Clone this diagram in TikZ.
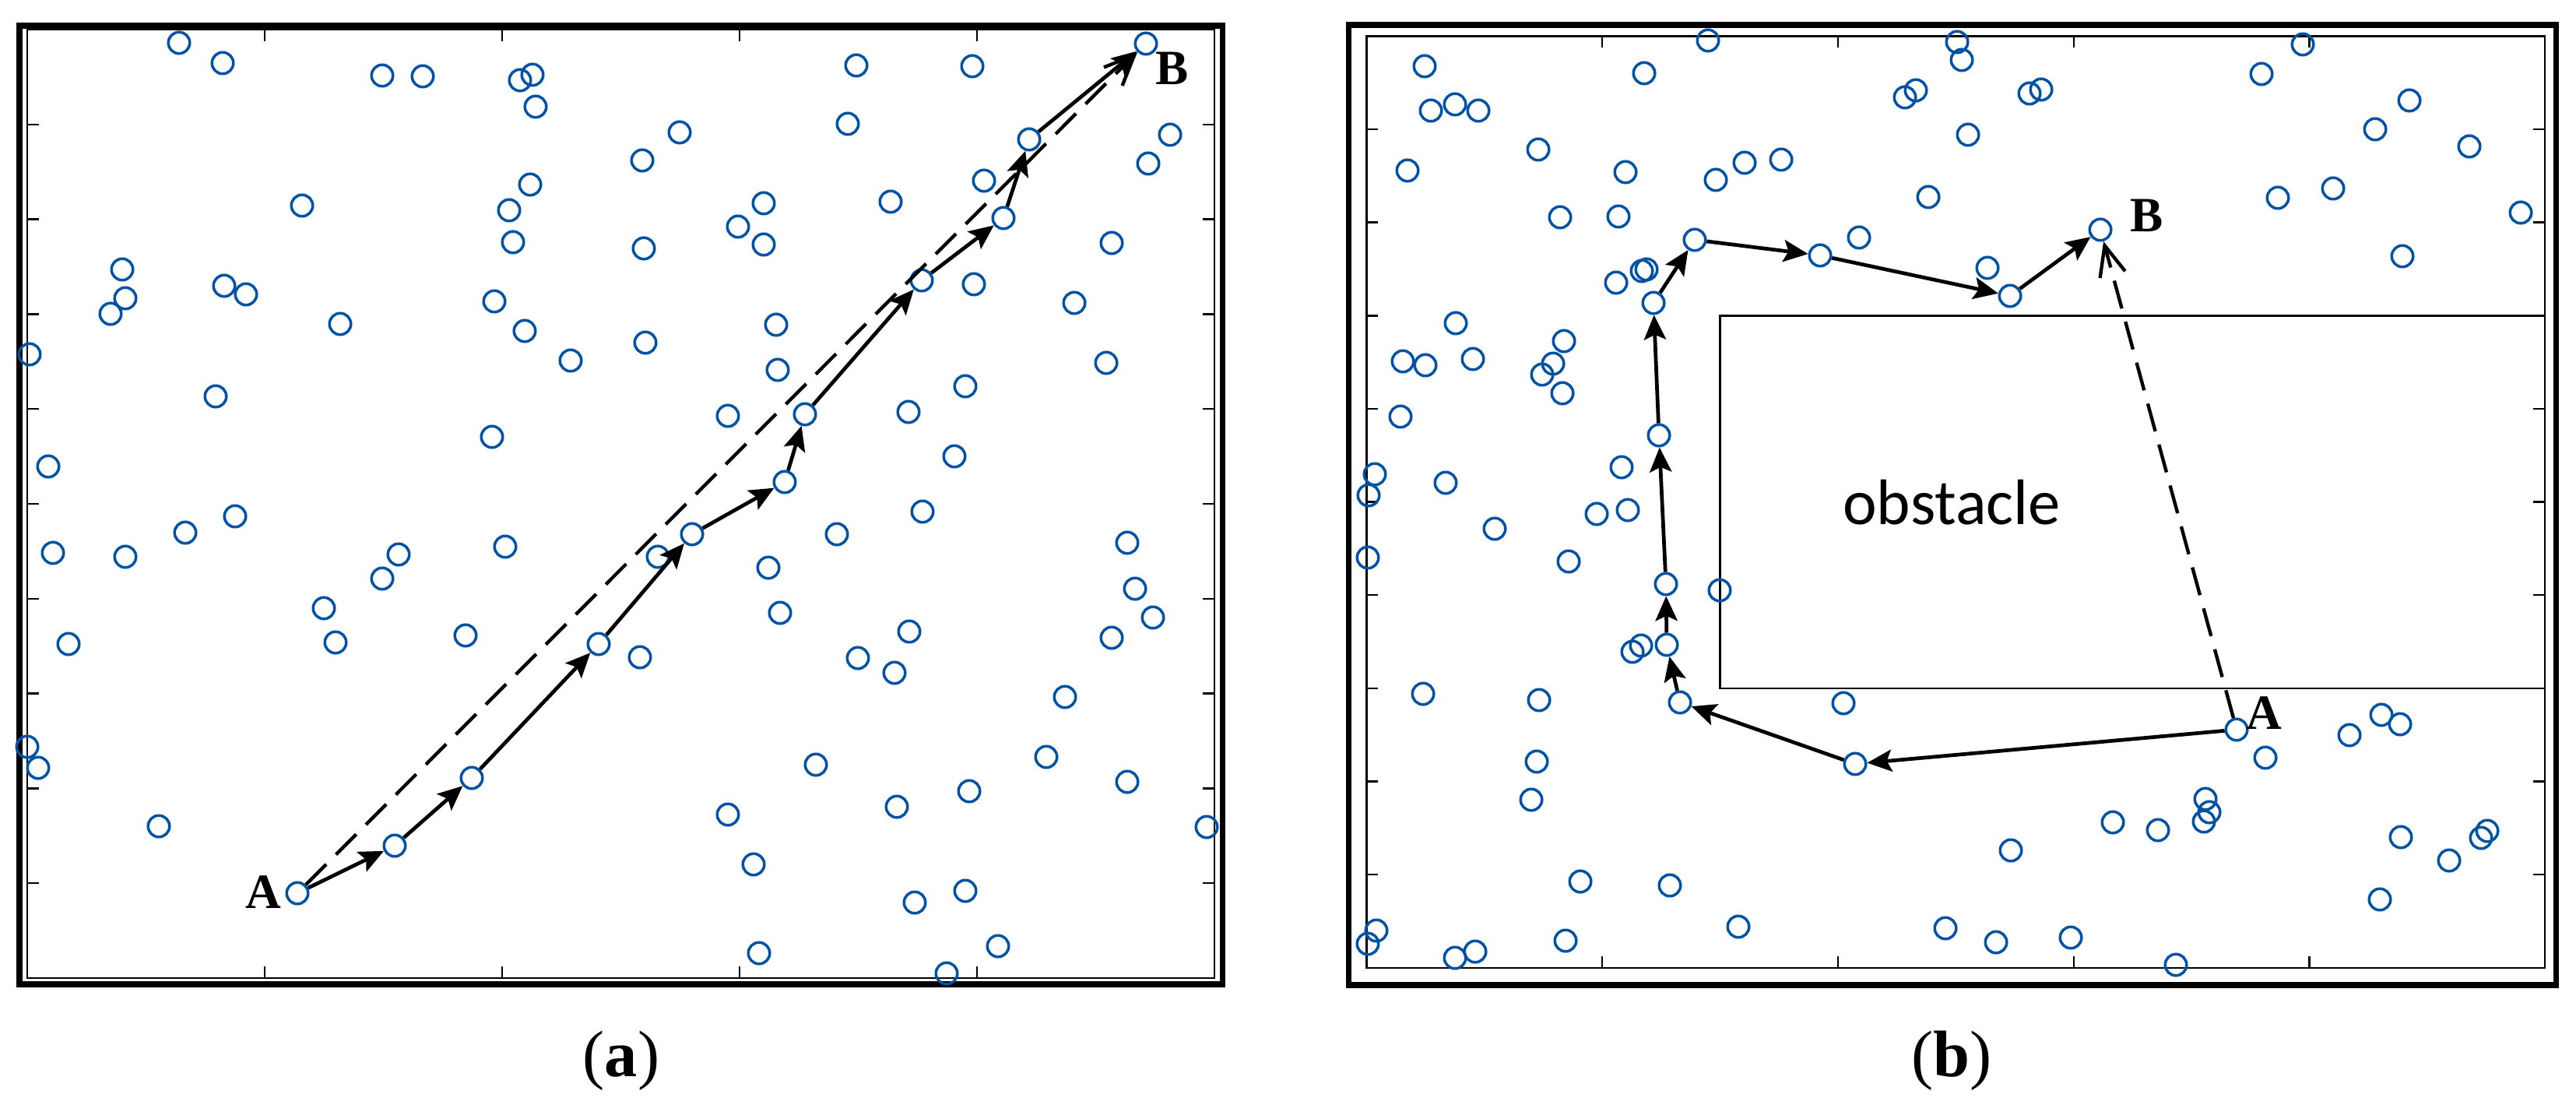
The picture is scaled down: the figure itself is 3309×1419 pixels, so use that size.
\documentclass[tikz,border=0pt]{standalone}
\usepackage{fontspec}
\setmainfont{Liberation Serif}
\newfontfamily\obsfont{Carlito}
\usetikzlibrary{arrows.meta}
\definecolor{ptblue}{RGB}{0,82,165}
\begin{document}
\begin{tikzpicture}[x=0.01cm,y=-0.01cm,
  pt/.style={circle,draw=ptblue,line width=1pt,minimum size=0.275cm,inner sep=0pt},
  outerframe/.style={line width=2pt},
  axisline/.style={line width=0.7pt},
  seg/.style={line width=1.35pt,-{Stealth[length=9pt,width=8pt,inset=1.8pt]}},
  direct/.style={line width=1.25pt,dash pattern=on 10.5pt off 5pt,-{Straight Barb[length=11pt,width=9.5pt]}},
  lab/.style={font=\fontsize{18}{18}\selectfont\bfseries},
  captext/.style={font=\fontsize{24}{24}\selectfont},
]
\useasboundingbox (0,0) rectangle (3309,1419);

% ---------------- panel (a) ----------------
\draw[outerframe] (25,33) rectangle (1570,1264);
\draw[axisline] (35,38) rectangle (1560,1256);
\foreach \k in {1,...,4} {
  \draw[axisline] ({35+305*\k},38) -- ++(0,15);
  \draw[axisline] ({35+305*\k},1256) -- ++(0,-15);
}
\foreach \k in {1,...,9} {
  \draw[axisline] (35,{38+121.8*\k}) -- ++(15,0);
  \draw[axisline] (1560,{38+121.8*\k}) -- ++(-15,0);
}

\foreach \x/\y [count=\i] in {
 230/55, 286/81, 491/97, 543/98, 668/103, 684/96, 688/137, 388/264, 681/237, 654/270,
 659/311, 157/346, 161/383, 142/403, 288/367, 316/378, 437/416, 635/387, 674/425, 733/463,
 38/455, 277/509, 632/561, 62/599, 302/663, 238/684,
 68/710, 161/715, 512/712, 491/743, 649/702, 416/781, 431/825, 598/816, 88/827, 35/959,
 49/986, 204/1061,
 1100/84, 1249/85, 1089/159, 873/170, 825/206, 1503/173, 1475/210, 1264/232, 981/261, 1144/259,
 948/291, 981/314, 827/319, 1428/312, 1251/365, 1380/389, 997/417, 829/440, 999/475, 1421/466,
 1240/496, 935/534, 1167/529, 1226/586, 1185/657, 1075/686, 1448/697,
 845/715, 987/729, 1458/756, 1481/793, 1428/819, 1002/787, 1168/811, 1102/845, 1149/864, 822/844,
 1048/982, 935/1046, 1152/1036, 1245/1016, 1344/972, 1368/895, 1448/1004, 1550/1062, 968/1110, 1175/1159,
 1240/1144, 975/1224, 1282/1215, 1216/1250}
 { \node[pt] (a\i) at (\x,\y) {}; }

\node[pt] (aA) at (382,1147) {};
\node[pt] (aP1) at (507,1086) {};
\node[pt] (aP2) at (606,999) {};
\node[pt] (aP3) at (769,827) {};
\node[pt] (aP4) at (889,686) {};
\node[pt] (aP5) at (1008,619) {};
\node[pt] (aP6) at (1034,532) {};
\node[pt] (aP7) at (1184,360) {};
\node[pt] (aP8) at (1289,280) {};
\node[pt] (aP9) at (1322,179) {};
\node[pt] (aB) at (1472,56) {};

\draw[direct] (aA) -- (aB);
\draw[seg] (aA) -- (aP1);
\draw[seg] (aP1) -- (aP2);
\draw[seg] (aP2) -- (aP3);
\draw[seg] (aP3) -- (aP4);
\draw[seg] (aP4) -- (aP5);
\draw[seg] (aP5) -- (aP6);
\draw[seg] (aP6) -- (aP7);
\draw[seg] (aP7) -- (aP8);
\draw[seg] (aP8) -- (aP9);
\draw[seg] (aP9) -- (aB);

\node[lab] (aAl) at (338,1146) {A};
\node[lab] (aBl) at (1506,88) {B};
\node[captext] (capa) at (798,1362) {(\textbf{a})};

% ---------------- panel (b) ----------------
\draw[outerframe] (1732,32) rectangle (3283,1265);
\draw[axisline] (1755.4,46.4) rectangle (3269,1242.8);
\foreach \k in {1,...,4} {
  \draw[axisline] ({1755.4+302.8*\k},46.4) -- ++(0,15);
  \draw[axisline] ({1755.4+302.8*\k},1242.8) -- ++(0,-15);
}
\foreach \k in {1,...,9} {
  \draw[axisline] (1755.4,{46.4+119.64*\k}) -- ++(15,0);
  \draw[axisline] (3269,{46.4+119.64*\k}) -- ++(-15,0);
}
\draw[axisline] (2209.6,405.3) rectangle (3269,883.9);
\node[font=\obsfont\fontsize{23.5}{23.5}\selectfont,anchor=base] (obs) at (2507,674) {obstacle};

\foreach \x/\y [count=\i] in {
 1830/85, 1838/142, 1869/134, 1899/142, 2112/94, 2194/52, 1808/219, 1976/192, 2088/221, 2204/231,
 2241/209, 2288/205, 2447/125, 2461/116, 2477/253, 2004/279, 2079/278, 2388/305, 2076/363, 2109/348,
 2115/346, 1870/415, 1802/464, 1831/469, 1892/461, 2009/438, 1995/467, 1981/481, 2007/505, 1799/535,
 2083/600, 1766/609, 1758/636, 1857/620, 2051/660, 2091/655, 1920/679,
 1757/716, 2015/721, 2209/758, 2097/837, 2108/829, 1828/891, 1977/899, 2368/903, 1974/978, 1967/1027,
 2030/1132, 2145/1137, 2233/1190, 2499/1192, 1768/1195, 1757/1212, 1869/1230, 1895/1222, 2011/1208,
 2514/54, 2520/77, 2607/120, 2622/115, 2528/173, 2553/344, 2905/95, 2958/57, 3051/166, 3095/129,
 3172/188, 2926/254, 2997/242, 3238/273, 3086/329,
 2910/973, 3018/944, 3059/918, 3083/930, 2833/1026, 2838/1043, 2831/1055, 2714/1056, 2772/1066, 2583/1092,
 3084/1075, 3146/1105, 3187/1076, 3195/1067, 3057/1155, 2564/1210, 2660/1204, 2795/1239}
 { \node[pt] (b\i) at (\x,\y) {}; }

\node[pt] (bA) at (2873,937) {};
\node[pt] (bQ2) at (2383,981) {};
\node[pt] (bQ3) at (2158,902) {};
\node[pt] (bQ4) at (2141,828) {};
\node[pt] (bQ5) at (2140,750) {};
\node[pt] (bQ6) at (2131,559) {};
\node[pt] (bQ7) at (2124,389) {};
\node[pt] (bQ8) at (2177,308) {};
\node[pt] (bQ9) at (2338,328) {};
\node[pt] (bQ10) at (2582,380) {};
\node[pt] (bB) at (2698,295) {};

\draw[direct] (bA) -- (bB);
\draw[seg] (bA) -- (bQ2);
\draw[seg] (bQ2) -- (bQ3);
\draw[seg] (bQ3) -- (bQ4);
\draw[seg] (bQ4) -- (bQ5);
\draw[seg] (bQ5) -- (bQ6);
\draw[seg] (bQ6) -- (bQ7);
\draw[seg] (bQ7) -- (bQ8);
\draw[seg] (bQ8) -- (bQ9);
\draw[seg] (bQ9) -- (bQ10);
\draw[seg] (bQ10) -- (bB);

\node[lab] (bAl) at (2908,916) {A};
\node[lab] (bBl) at (2758,277) {B};
\node[captext] (capb) at (2507,1362) {(\textbf{b})};
\end{tikzpicture}
\end{document}
